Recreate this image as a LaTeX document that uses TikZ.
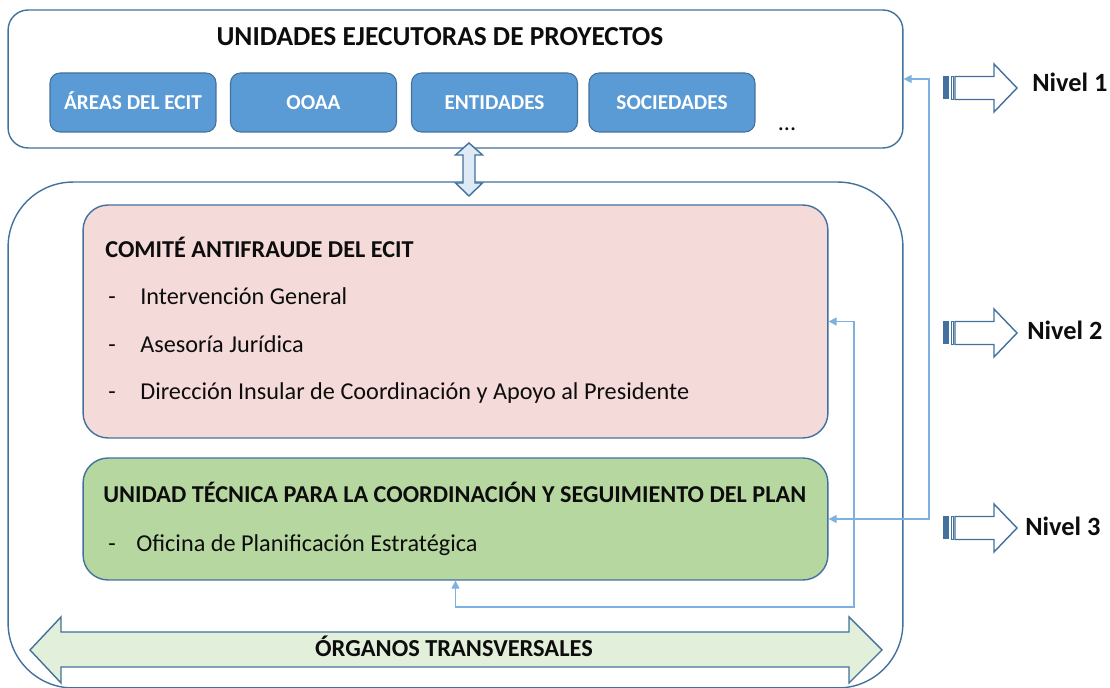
\documentclass[tikz,border=0pt]{standalone}
\usepackage{fontspec}
\setmainfont{Carlito}
\usepackage{tikz}
\usetikzlibrary{positioning, arrows.meta, calc}

\definecolor{borde}{HTML}{41719C}
\definecolor{azul}{HTML}{5B9BD5}
\definecolor{azulclaro}{HTML}{DEEBF7}
\definecolor{rosa}{HTML}{F5DADA}
\definecolor{verde}{HTML}{B7D7A1}
\definecolor{verdeclaro}{HTML}{E2EFDA}
\definecolor{enlace}{HTML}{7EB0E0}
\definecolor{texto}{HTML}{0D0D0D}

\begin{document}
\begin{tikzpicture}[x=0.02cm, y=-0.02cm,
    marco/.style={rectangle, draw=borde, line width=0.8pt, inner sep=0pt},
    unidad/.style={rectangle, draw=borde, line width=0.6pt, fill=azul, rounded corners=0.2cm,
                   minimum width=3.32cm, minimum height=1.18cm, text=white,
                   text height=7.8pt, text depth=0pt,
                   font=\fontsize{12.1}{14}\selectfont\bfseries},
    cabecera/.style={anchor=base west, inner sep=0pt, text=texto, font=\fontsize{13.8}{16}\selectfont\bfseries},
    item/.style={anchor=base west, inner sep=0pt, text=texto, font=\fontsize{13.8}{16}\selectfont},
    nivel/.style={anchor=base west, inner sep=0pt, text=texto, font=\fontsize{15}{17}\selectfont\bfseries},
    bloque/.style={draw=borde, line width=0.8pt, line join=miter},
    link/.style={{Triangle[length=1.6mm, width=1.6mm]}-{Triangle[length=1.6mm, width=1.6mm]},
                 draw=enlace, line width=0.6pt}
]
    \useasboundingbox (0,0) rectangle (1110,688);

    % === Unidades ejecutoras ===
    \node[marco, rounded corners=0.4cm, minimum width=17.9cm, minimum height=2.76cm] (ejecutoras) at (455.5,79) {};
    \node[anchor=base, inner sep=0pt, text=texto, font=\fontsize{15.6}{18}\selectfont\bfseries] (titulo) at (440,46) {UNIDADES EJECUTORAS DE PROYECTOS};
    \node[unidad] (areas) at (133,102.5) {ÁREAS DEL ECIT};
    \node[unidad] (ooaa) at (313.5,102.5) {OOAA};
    \node[unidad] (entidades) at (494.5,102.5) {ENTIDADES};
    \node[unidad] (sociedades) at (672,102.5) {SOCIEDADES};
    \node[anchor=base, inner sep=0pt, text=texto, font=\fontsize{13.8}{16}\selectfont] (puntos) at (787,131) {...};

    % === Organos transversales ===
    \node[marco, rounded corners=1.3cm, minimum width=17.9cm, minimum height=10.12cm] (transversal) at (455.5,435) {};
    \node[marco, fill=rosa, rounded corners=0.5cm, minimum width=14.9cm, minimum height=4.66cm] (comite) at (455.5,321.5) {};
    \node[marco, fill=verde, rounded corners=0.5cm, minimum width=14.9cm, minimum height=2.44cm] (tecnica) at (455.5,519) {};

    \node[cabecera] (comtit) at (105,258) {COMITÉ ANTIFRAUDE DEL ECIT};
    \node[item] (guion1) at (108,305) {-};
    \node[item] (interv) at (140,305) {Intervención General};
    \node[item] (guion2) at (108,353) {-};
    \node[item] (asesor) at (140,353) {Asesoría Jurídica};
    \node[item] (guion3) at (108,400) {-};
    \node[item] (direcc) at (140,400) {Dirección Insular de Coordinación y Apoyo al Presidente};

    \node[cabecera] (tectit) at (103,503) {UNIDAD TÉCNICA PARA LA COORDINACIÓN Y SEGUIMIENTO DEL PLAN};
    \node[item] (guion4) at (108,552) {-};
    \node[item] (oficina) at (136,552) {Oficina de Planificación Estratégica};

    % double arrows
    \draw[bloque, fill=azulclaro] (469,143) -- (482.5,155) -- (475,155) -- (475,183) -- (482.5,183)
        -- (469,196) -- (455.5,183) -- (463,183) -- (463,155) -- (455.5,155) -- cycle;
    \draw[bloque, fill=verdeclaro] (30,650) -- (61,617) -- (61,632) -- (849,632) -- (849,617)
        -- (882,650) -- (849,683) -- (849,667) -- (61,667) -- (61,683) -- cycle;
    \node[anchor=base, inner sep=0pt, text=texto, font=\fontsize{13.9}{16}\selectfont\bfseries] (organos) at (454,657) {ÓRGANOS TRANSVERSALES};

    % === Connectors ===
    \coordinate (subida) at (929,300);
    \coordinate (retorno) at (854,607);
    \draw[link] (tecnica.east) -| (subida) |- (ejecutoras.east);
    \draw[link] (comite.east) -| (retorno) -| (tecnica.south);

    % === Niveles ===
    \begin{scope}[shift={(0,88)}]
        \fill[borde] (943,-11.5) rectangle (949,11.5);
        \draw[borde, line width=0.4pt] (951,-11.5) rectangle (953.5,11.5);
        \draw[bloque, fill=white] (955,-11.5) -- (994,-11.5) -- (994,-24) -- (1017,0)
            -- (994,24) -- (994,11.5) -- (955,11.5) -- cycle;
    \end{scope}
    \node[nivel] (nivel1) at (1032,92) {Nivel 1};

    \begin{scope}[shift={(0,333)}]
        \fill[borde] (943,-11.5) rectangle (949,11.5);
        \draw[borde, line width=0.4pt] (951,-11.5) rectangle (953.5,11.5);
        \draw[bloque, fill=white] (955,-11.5) -- (994,-11.5) -- (994,-24) -- (1017,0)
            -- (994,24) -- (994,11.5) -- (955,11.5) -- cycle;
    \end{scope}
    \node[nivel] (nivel2) at (1027,340) {Nivel 2};

    \begin{scope}[shift={(0,528)}]
        \fill[borde] (943,-11.5) rectangle (949,11.5);
        \draw[borde, line width=0.4pt] (951,-11.5) rectangle (953.5,11.5);
        \draw[bloque, fill=white] (955,-11.5) -- (994,-11.5) -- (994,-24) -- (1017,0)
            -- (994,24) -- (994,11.5) -- (955,11.5) -- cycle;
    \end{scope}
    \node[nivel] (nivel3) at (1025,536) {Nivel 3};

\end{tikzpicture}
\end{document}
